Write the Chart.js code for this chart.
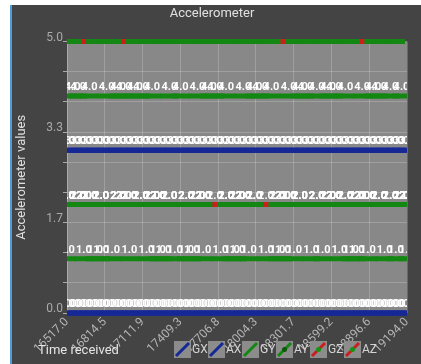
<!DOCTYPE html>
<html>
<head>
<meta charset="utf-8">
<script src="https://cdn.jsdelivr.net/npm/chart.js@4.4.0/dist/chart.umd.min.js"></script>
<style>
  html, body { margin: 0; background: #fff; }
  #panel {
    position: absolute; left: 10px; top: 5px;
    width: 411px; height: 359px;
    background: #444; border-left: 2px solid #4a9fd8;
    box-sizing: border-box;
  }
  #chart { display: block; }
</style>
</head>
<body>
<div id="panel"><canvas id="chart" width="409" height="359"></canvas></div>
<script>
// time stamps of the readings
const timeReceived = [
  16517.0, 16561.4, 16603.9, 16650.2, 16694.8, 16738.1, 16785.6, 16829.3, 16872.0, 16919.7,
  16963.2, 17008.5, 17051.9, 17098.4, 17143.0, 17186.7, 17233.1, 17276.4, 17322.8, 17366.0,
  17412.5, 17455.9, 17501.3, 17544.6, 17591.2, 17634.7, 17681.0, 17725.4, 17769.8, 17815.3,
  17858.6, 17905.1, 17948.7, 17993.0, 18038.4, 18083.9, 18127.2, 18173.6, 18216.9, 18262.3,
  18305.8, 18351.1, 18394.6, 18440.0, 18483.5, 18529.8, 18573.2, 18618.7, 18662.1, 18708.4,
  18751.9, 18797.3, 18840.6, 18886.0, 18929.5, 18975.1, 19018.4, 19063.9, 19107.2, 19150.6,
  19194.0
];
const gx = [
  0,3,0,0,3,0,3,3,0,3, 0,3,0,0,3,3,0,3,0,3, 3,0,0,3,0,3,0,3,3,0,
  3,0,0,3,0,3,3,0,3,0, 3,0,0,3,3,0,3,0,3,0, 3,3,0,0,3,0,3,0,3,3, 0
];
const ax = [
  3,0,3,3,0,3,0,0,3,0, 3,0,3,3,0,0,3,0,3,0, 0,3,3,0,3,0,3,0,0,3,
  0,3,3,0,3,0,0,3,0,3, 0,3,3,0,0,3,0,3,0,3, 0,0,3,3,0,3,0,3,0,0, 3
];
const gy = [
  1,4,4,1,4,1,1,4,1,4, 4,1,4,4,1,4,1,1,4,1, 4,1,1,4,1,4,4,1,4,1,
  1,4,1,4,4,1,4,1,1,4, 1,4,4,1,4,1,4,4,1,4, 1,1,4,1,4,4,1,4,1,4, 1
];
const ay = [
  2,5,2,2,2,5,2,5,5,2, 2,2,5,2,5,2,2,5,2,5, 5,2,5,2,2,5,5,5,2,5,
  2,2,5,2,5,5,5,2,2,2, 5,2,5,5,2,5,2,2,5,2, 5,2,2,2,5,2,5,2,5,2, 2
];
const gz = [
  2,5,2,5,2,5,2,5,5,2, 5,2,5,2,5,2,2,5,2,5, 5,2,5,2,2,5,5,5,2,5,
  2,2,5,2,5,5,5,2,5,2, 5,2,5,5,2,5,2,2,5,2, 5,2,5,2,5,2,5,2,5,2, 2
];
const az = [
  2,5,2,2,2,5,2,5,5,2, 2,2,5,2,5,2,2,5,2,5, 5,2,5,2,2,5,2,5,2,5,
  2,2,5,2,5,2,5,2,2,2, 5,2,5,5,2,5,2,2,5,2, 5,2,2,2,5,2,5,2,5,2, 2
];
const seriesNames = ['GX', 'AX', 'GY', 'AY', 'GZ', 'AZ'];
const seriesValues = [gx, ax, gy, ay, gz, az];

const BLUE = 'rgb(22,40,150)', GREEN = 'rgb(18,135,18)', RED = 'rgb(205,30,30)';
const colors = [BLUE, BLUE, GREEN, GREEN, RED, RED];
const dots = [null, null, null, 'rgb(10,90,10)', 'rgb(20,150,20)', 'rgb(20,150,20)'];

const datasets = seriesNames.map((name, i) => ({
  label: name,
  data: timeReceived.map((t, j) => ({ x: t, y: seriesValues[i][j] })),
  pointBorderColor: colors[i],
  pointBackgroundColor: colors[i],
  legendDot: dots[i]
}));

// grey plot background
const plotBg = {
  id: 'plotBg',
  beforeDraw(chart) {
    const { ctx, chartArea: a } = chart;
    ctx.save();
    ctx.fillStyle = '#888';
    ctx.fillRect(a.left, a.top, a.right - a.left, a.bottom - a.top);
    ctx.restore();
  }
};

// white value text above every point
const valueLabels = {
  id: 'valueLabels',
  afterDatasetsDraw(chart) {
    const { ctx, chartArea: a } = chart;
    ctx.save();
    ctx.beginPath();
    ctx.rect(a.left, a.top, a.right - a.left, a.bottom - a.top);
    ctx.clip();
    ctx.font = 'bold 11px Roboto';
    ctx.fillStyle = '#fff';
    ctx.textAlign = 'center';
    ctx.textBaseline = 'bottom';
    chart.data.datasets.forEach((ds, i) => {
      chart.getDatasetMeta(i).data.forEach((pt, j) => {
        ctx.fillText(ds.data[j].y.toFixed(1), pt.x, pt.y - 3);
      });
    });
    ctx.restore();
  }
};

// axis name and legend share the bottom row
const bottomRow = {
  id: 'bottomRow',
  afterDraw(chart) {
    const ctx = chart.ctx;
    ctx.save();
    ctx.textBaseline = 'middle';
    ctx.textAlign = 'left';
    ctx.font = '13px Roboto';
    ctx.fillStyle = '#e6e6e6';
    ctx.fillText('Time received', 26, 346);
    chart.data.datasets.forEach((ds, i) => {
      const bx = 162 + i * 34, by = 336;
      ctx.fillStyle = '#8c8c8c';
      ctx.fillRect(bx, by, 17, 17);
      ctx.strokeStyle = ds.pointBorderColor;
      ctx.lineWidth = 3;
      ctx.beginPath();
      ctx.moveTo(bx + 2, by + 15);
      ctx.lineTo(bx + 15, by + 2);
      ctx.stroke();
      if (ds.legendDot) {
        ctx.fillStyle = ds.legendDot;
        ctx.beginPath();
        ctx.arc(bx + 8.5, by + 8.5, 2.5, 0, Math.PI * 2);
        ctx.fill();
      }
      ctx.font = '12px Roboto';
      ctx.fillStyle = '#d4d4d4';
      ctx.fillText(ds.label, bx + 18, by + 9);
    });
    ctx.restore();
  }
};

Chart.defaults.font.family = 'Roboto';

const gridColor = 'rgba(255,255,255,0.2)';
new Chart(document.getElementById('chart'), {
  type: 'scatter',
  data: { datasets },
  options: {
    responsive: false,
    animation: false,
    events: [],
    clip: { left: 0, right: 0, top: 3, bottom: 3 },
    layout: { padding: { left: 0, right: 9, top: 0, bottom: 0 } },
    elements: {
      point: { pointStyle: 'line', radius: 9, hoverRadius: 9, borderWidth: 5 }
    },
    plugins: {
      legend: { display: false },
      tooltip: { enabled: false },
      title: {
        display: true,
        text: 'Accelerometer',
        color: '#e0e0e0',
        font: { size: 13, weight: 'normal' },
        padding: { top: 1, bottom: 20 }
      }
    },
    scales: {
      x: {
        type: 'linear',
        position: 'bottom',
        min: 16517.0,
        max: 19194.05,
        afterFit: s => { s.height = 51; },
        grid: { color: gridColor, drawTicks: false },
        border: { display: false },
        ticks: {
          count: 10,
          autoSkip: false,
          minRotation: 45,
          maxRotation: 45,
          padding: 2,
          color: '#b4b4b4',
          font: { size: 12 },
          callback: v => v.toFixed(1)
        }
      },
      y: {
        min: 0,
        max: 5,
        afterFit: s => { s.width = 55; },
        grid: { color: gridColor, tickLength: 4, tickColor: '#aaa' },
        border: { color: '#aaa' },
        title: {
          display: true,
          text: 'Accelerometer values',
          color: '#e0e0e0',
          font: { size: 13 },
          padding: { top: 2, bottom: 0 }
        },
        ticks: {
          count: 10,
          autoSkip: false,
          padding: 0,
          labelOffset: -4,
          color: '#aaa',
          font: { size: 12 },
          callback: (v, i) => (i % 3 === 0 ? v.toFixed(1) : '')
        }
      }
    }
  },
  plugins: [plotBg, valueLabels, bottomRow]
});
</script>
</body>
</html>
